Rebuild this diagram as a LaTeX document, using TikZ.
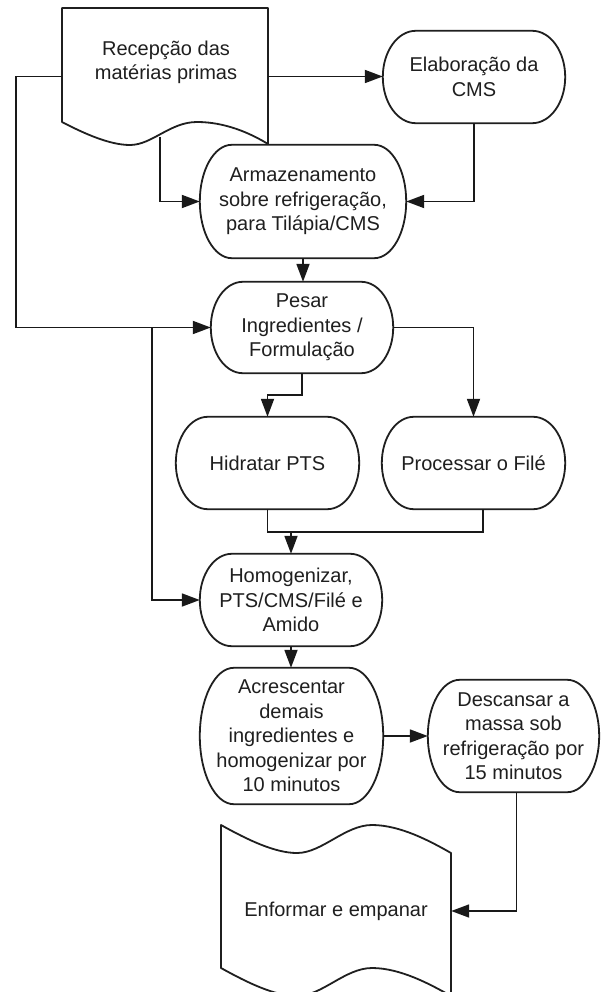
\documentclass[tikz,border=0pt]{standalone}
\usepackage{fontspec}
\setmainfont{Liberation Sans}
\usetikzlibrary{arrows.meta,calc}
\tikzset{
  bx/.style={draw=none, inner sep=0pt, align=center, font=\fontsize{20}{24.5}\selectfont, text=black!88},
  outl/.style={draw=black!88, line width=1.8pt, line join=round},
  wire/.style={draw=black!90, line width=1.8pt},
  conn/.style={wire, -{Triangle[length=18pt,width=13pt]}}
}
\newcommand\ovl[2]{%
  \draw[outl] let \p1=(#1.north west), \p2=(#1.south east),
    \p3=({0.5*(\x1+\x2)},{0.5*(\y1+\y2)}),
    \p4=({0.4477*#2pt},{0.27615*(\y1-\y2)}) in
    (\x1+#2pt,\y1) -- (\x2-#2pt,\y1)
    .. controls (\x2-\x4,\y1) and (\x2,\y3+\y4) .. (\x2,\y3)
    .. controls (\x2,\y3-\y4) and (\x2-\x4,\y2) .. (\x2-#2pt,\y2)
    -- (\x1+#2pt,\y2)
    .. controls (\x1+\x4,\y2) and (\x1,\y3-\y4) .. (\x1,\y3)
    .. controls (\x1,\y3+\y4) and (\x1+\x4,\y1) .. cycle;}
\begin{document}
\begin{tikzpicture}[x=1pt,y=-1pt]
\fill[white] (0,0) rectangle (601,992);
\useasboundingbox (0,0) rectangle (601,992);

% document shape: Recepção
\node[bx, minimum width=206pt, minimum height=137pt] (rec) at (165,76.5) {};
\draw[outl] (62,8) -- (268,8) -- (268,144)
  .. controls (250,133) and (225,122) .. (197,122)
  .. controls (170,122) and (152,145) .. (130,145)
  .. controls (110,145) and (85,134) .. (62,122) -- cycle;
\node[bx] (rectxt) at (166,62.5) {Recepção das\\matérias primas};

% terminators
\node[bx, minimum width=182pt, minimum height=92pt] (elab) at (474,77) {Elaboração da\\CMS};
\node[bx, minimum width=206pt, minimum height=113pt] (arm) at (303,201.5) {Armazenamento\\sobre refrigeração,\\para Tilápia/CMS};
\node[bx, minimum width=182pt, minimum height=91pt] (pesar) at (302,327.5) {Pesar\\Ingredientes /\\Formulação};
\node[bx, minimum width=183pt, minimum height=92pt] (hid) at (267.5,463) {Hidratar PTS};
\node[bx, minimum width=183pt, minimum height=92pt] (proc) at (473.5,463) {Processar o Filé};
\node[bx, minimum width=182pt, minimum height=92pt] (homog) at (291,600) {Homogenizar,\\PTS/CMS/Filé e\\Amido};
\node[bx, minimum width=183pt, minimum height=136pt] (acr) at (291.5,736) {Acrescentar\\demais\\ingredientes e\\homogenizar por\\10 minutos};
\node[bx, minimum width=171pt, minimum height=112pt] (desc) at (513.5,736) {Descansar a\\massa sob\\refrigeração por\\15 minutos};
\ovl{elab}{33}
\ovl{arm}{32}
\ovl{pesar}{32}
\ovl{hid}{32}
\ovl{proc}{32}
\ovl{homog}{32}
\ovl{acr}{34}
\ovl{desc}{32}

% tape shape: Enformar
\node[bx, minimum width=230pt, minimum height=172pt] (enf) at (336,911) {Enformar e empanar};
\draw[outl] (221,825)
  .. controls (248,840) and (275,853) .. (297,853)
  .. controls (322,853) and (345,825) .. (372,825)
  .. controls (400,825) and (430,841) .. (451,853)
  -- (451,996)
  .. controls (430,984) and (400,968) .. (372,968)
  .. controls (345,968) and (322,996) .. (297,996)
  .. controls (275,996) and (248,983) .. (221,968) -- cycle;

% helper coordinates
\coordinate (lx) at (16,0);
\coordinate (jx) at (152,0);
\coordinate (recb) at (160,137);
\coordinate (procb) at (483,509);
\coordinate (mrg) at (291,532);

% connectors
\draw[conn] (rec.east) -- (rec.east -| elab.west);
\draw[conn] (rec.west) -- (rec.west -| lx) |- (pesar.west);
\draw[conn] (jx |- pesar.west) |- (homog.west);
\draw[conn] (recb) |- (arm.west);
\draw[conn] (elab.south) |- (arm.east);
\draw[conn] (arm.south) -- (arm.south |- pesar.north);
\draw[conn] (pesar.south) -- ++(0,22) -| (hid.north);
\draw[conn] (pesar.east) -| (proc.north);
\draw[wire] (hid.south) -- ++(0,23) -| (procb);
\draw[conn] (mrg) -- (homog.north);
\draw[conn] (homog.south) -- (homog.south |- acr.north);
\draw[conn] (acr.east) -- (desc.west);
\draw[conn] ($(desc.south)+(3,0)$) |- (enf.east);
\end{tikzpicture}
\end{document}
